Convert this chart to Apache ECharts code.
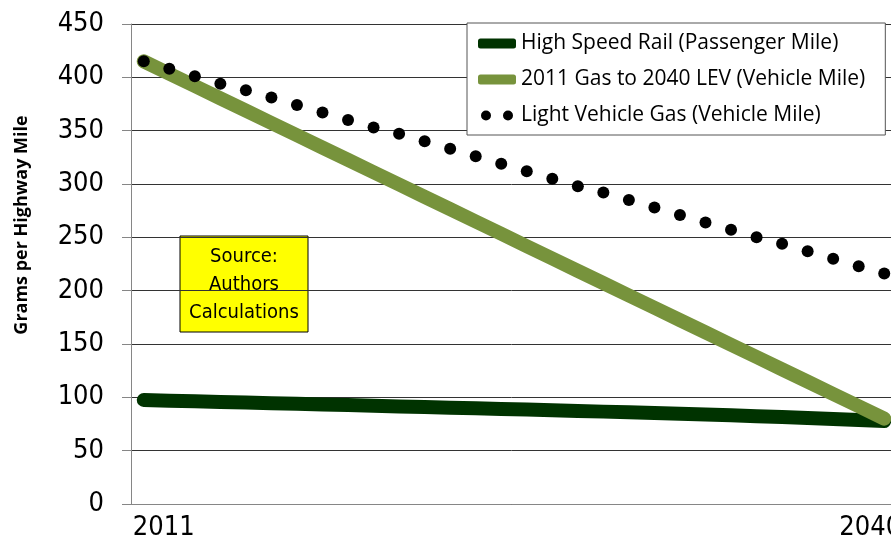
<!DOCTYPE html>
<html>
<head>
<meta charset="utf-8">
<script src="https://cdn.jsdelivr.net/npm/echarts@6/dist/echarts.min.js"></script>
<style>html,body{margin:0;padding:0;background:#fff}#c{width:891px;height:543px}</style>
</head>
<body>
<div id="c"></div>
<script>
const years = [2011,2012,2013,2014,2015,2016,2017,2018,2019,2020,2021,2022,2023,2024,2025,2026,2027,2028,2029,2030,2031,2032,2033,2034,2035,2036,2037,2038,2039,2040];
const hsr = [97.5,96.9,96.3,95.7,95.1,94.5,93.9,93.3,92.7,92.1,91.5,90.9,90.3,89.7,89.1,88.5,87.9,87.2,86.6,86.0,85.3,84.6,83.9,83.1,82.3,81.5,80.6,79.7,78.8,77.8];
const lev = [415,403.4,391.9,380.3,368.8,357.2,345.7,334.1,322.6,311.0,299.5,287.9,276.4,264.8,253.3,241.7,230.2,218.6,207.1,195.5,184.0,172.4,160.9,149.3,137.8,126.2,114.7,103.1,91.6,80];
const gas = [415,408,401,394,388,381,374,367,360,353,347,340,333,326,319,312,305,298,292,285,278,271,264,257,250,244,237,230,223,216];
const seriesNames = ['High Speed Rail (Passenger Mile)','2011 Gas to 2040 LEV (Vehicle Mile)','Light Vehicle Gas (Vehicle Mile)'];
const sourceLines = ['Source:','Authors','Calculations'];

const narrow = '"Liberation Sans Narrow","DejaVu Sans Condensed","Roboto Condensed",Roboto,sans-serif';
const chart = echarts.init(document.getElementById('c'));
const dotsIcon = 'path://M0,5a5,5 0 1,0 10,0a5,5 0 1,0 -10,0M22,5a5,5 0 1,0 10,0a5,5 0 1,0 -10,0';
chart.setOption({
  animation: false,
  grid: {left: 131, top: 24, width: 766, height: 480, containLabel: false, outerBoundsMode: 'none'},
  xAxis: {
    type: 'category', data: years, boundaryGap: true,
    axisLine: {lineStyle: {color: '#868686', width: 1}},
    axisTick: {show: false},
    axisLabel: {
      interval: function(i){ return i === 0 || i === years.length - 1; },
      margin: 10,
      formatter: function(v, i){ return i === 0 ? '{a|' + v + '}' : '{b|' + v + '}'; },
      rich: {
        a: {fontFamily: narrow, fontSize: 27, color: '#000', padding: [0,0,0,40]},
        b: {fontFamily: narrow, fontSize: 27, color: '#000', padding: [0,28,0,0]}
      }
    },
    splitLine: {show: false}
  },
  yAxis: {
    type: 'value', min: 0, max: 450, interval: 50,
    axisLine: {show: true, lineStyle: {color: '#868686', width: 1}},
    axisTick: {show: true, inside: false, length: 9, lineStyle: {color: '#868686'}},
    axisLabel: {fontFamily: narrow, fontSize: 27, color: '#000', margin: 27},
    splitLine: {lineStyle: {color: '#333', width: 1}}
  },
  legend: {
    orient: 'vertical', left: 467, top: 23,
    backgroundColor: '#fff', borderColor: '#555', borderWidth: 1,
    padding: [10, 20, 9, 11], itemGap: 15,
    itemWidth: 38, itemHeight: 10,
    textStyle: {fontFamily: '"Open Sans"', fontSize: 21, color: '#000'},
    data: [
      {name: seriesNames[0], icon: 'roundRect', itemStyle: {color: '#003300'}},
      {name: seriesNames[1], icon: 'roundRect', itemStyle: {color: '#77933C'}},
      {name: seriesNames[2], icon: dotsIcon, itemStyle: {color: '#000'}}
    ]
  },
  graphic: [
    {type: 'text', x: 22, y: 225, rotation: Math.PI/2, z: 10,
     style: {text: 'Grams per Highway Mile', font: 'bold 18px "Open Sans"', fill: '#000', align: 'center', verticalAlign: 'middle'}},
    {type: 'group', x: 180, y: 236, z: 20, children: [
      {type: 'rect', shape: {x: 0, y: 0, width: 128, height: 96}, style: {fill: '#FFFF00', stroke: '#000', lineWidth: 1}},
      {type: 'text', x: 64, y: 49, style: {text: sourceLines.join('\n'), font: '20px ' + narrow, lineHeight: 28, fill: '#000', align: 'center', verticalAlign: 'middle'}}
    ]}
  ],
  series: [
    {name: seriesNames[0], type: 'line', data: hsr, showSymbol: false, symbol: 'none', z: 2,
     lineStyle: {color: '#003300', width: 14, cap: 'round', join: 'round'}, itemStyle: {color: '#003300'}},
    {name: seriesNames[1], type: 'line', data: lev, showSymbol: false, symbol: 'none', z: 3,
     lineStyle: {color: '#77933C', width: 14, cap: 'round', join: 'round'}, itemStyle: {color: '#77933C'}},
    {name: seriesNames[2], type: 'line', data: gas, symbol: 'circle', symbolSize: 12, showSymbol: true, z: 4,
     lineStyle: {width: 0, opacity: 0}, itemStyle: {color: '#000'}}
  ]
});
</script>
</body>
</html>
